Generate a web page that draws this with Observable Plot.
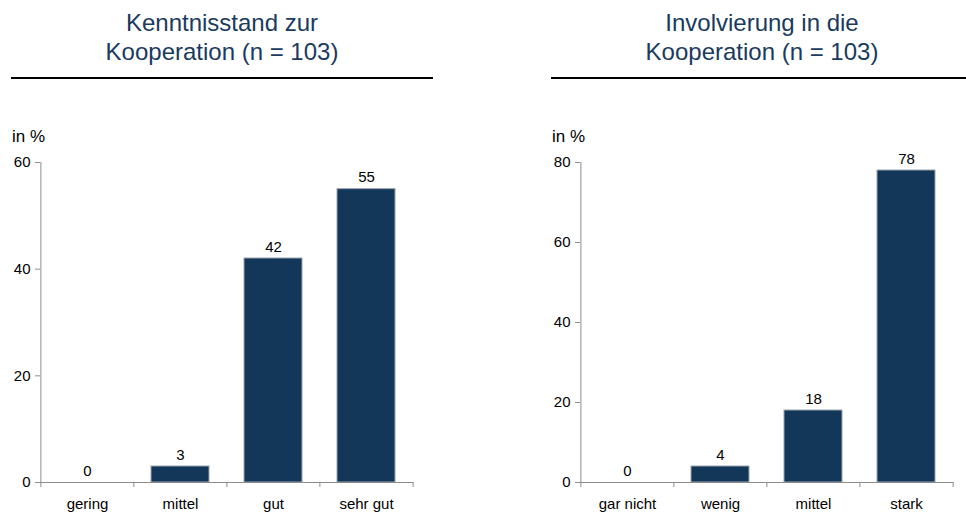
<!DOCTYPE html>
<html><head><meta charset="utf-8">
<script src="https://cdn.jsdelivr.net/npm/d3@7"></script>
<script src="https://cdn.jsdelivr.net/npm/@observablehq/plot@0.6"></script>
<style>
body{margin:0;width:966px;height:513px;overflow:hidden;background:#fff;font-family:"Liberation Sans",Arial,sans-serif;position:relative}
.panel{position:absolute;top:0;width:426px;height:513px}
.title{position:absolute;left:0;top:8px;width:444px;text-align:center;font-size:24px;line-height:29px;color:#1a3a5e;white-space:nowrap}
.rule{position:absolute;left:11px;top:77px;width:422px;height:2px;background:#000}
.unit{position:absolute;left:12px;top:128px;font-size:17px;line-height:17px;color:#000;white-space:nowrap}
.chart{position:absolute;left:0;top:120px}
</style></head><body>
<div class="panel" id="p1" style="left:0"></div>
<div class="panel" id="p2" style="left:540px"></div>
<script>
const titles1 = ["Kenntnisstand zur", "Kooperation (n = 103)"];
const categories1 = ["gering", "mittel", "gut", "sehr gut"];
const values1 = [0, 3, 42, 55];
const yTicks1 = [0, 20, 40, 60];

const titles2 = ["Involvierung in die", "Kooperation (n = 103)"];
const categories2 = ["gar nicht", "wenig", "mittel", "stark"];
const values2 = [0, 4, 18, 78];
const yTicks2 = [0, 20, 40, 60, 80];

const unitLabel = "in %";

const FONT = '"Liberation Sans", Arial, sans-serif';
const AXIS = "#8c8c8c";

function chart(categories, values, yTicks) {
  const W = 426, H = 393, ml = 40, mr = 13, mt = 42, mb = 31;
  const step = (W - ml - mr) / categories.length;
  const yMax = d3.max(yTicks);
  const data = categories.map((c, i) => ({c, v: values[i]}));
  return Plot.plot({
    width: W, height: H,
    marginLeft: ml, marginRight: mr, marginTop: mt, marginBottom: mb,
    style: {fontFamily: FONT, fontSize: "14px", color: "#000", background: "transparent", overflow: "visible"},
    x: {domain: categories, paddingInner: 0.38, paddingOuter: 0.19, label: null},
    y: {domain: [0, yMax], label: null},
    marks: [
      Plot.barY(data, {x: "c", y: "v", fill: "#133759", stroke: "#9aa3ad", strokeWidth: 1}),
      Plot.ruleY([0], {stroke: AXIS}),
      Plot.ruleX([categories[0]], {x: d => d, y1: 0, y2: yMax, dx: -step / 2, stroke: AXIS}),
      Plot.ruleX(categories, {x: d => d, y1: 0, y2: 0, dx: -step / 2, insetBottom: -5, stroke: AXIS}),
      Plot.ruleX([categories[categories.length - 1]], {x: d => d, y1: 0, y2: 0, dx: step / 2, insetBottom: -5, stroke: AXIS}),
      Plot.axisY({ticks: yTicks, tickSize: 5, tickPadding: 5, stroke: AXIS, fill: "#000", fontSize: 15, label: null}),
      Plot.axisX({tickSize: 0, tickPadding: 16, fontSize: 15, fill: "#000", label: null}),
      Plot.text(data, {x: "c", y: "v", text: d => String(d.v), dy: -7, lineAnchor: "bottom", fill: "#000", fontSize: 15})
    ]
  });
}

function panel(id, titles, categories, values, yTicks) {
  const p = document.getElementById(id);
  const t = document.createElement("div");
  t.className = "title";
  t.innerHTML = titles.join("<br>");
  p.appendChild(t);
  const r = document.createElement("div");
  r.className = "rule";
  p.appendChild(r);
  const u = document.createElement("div");
  u.className = "unit";
  u.textContent = unitLabel;
  p.appendChild(u);
  const c = document.createElement("div");
  c.className = "chart";
  c.appendChild(chart(categories, values, yTicks));
  p.appendChild(c);
}

panel("p1", titles1, categories1, values1, yTicks1);
panel("p2", titles2, categories2, values2, yTicks2);
</script>
</body></html>
